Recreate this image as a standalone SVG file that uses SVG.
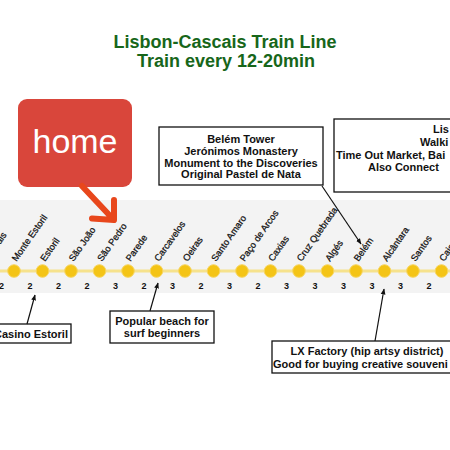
<svg xmlns="http://www.w3.org/2000/svg" width="450" height="450" viewBox="0 0 450 450">
<defs>
<style>
.title{font-family:"Liberation Sans",Arial,sans-serif;font-weight:bold;font-size:18px;fill:#17661a;text-anchor:middle}
.st{font-family:"Liberation Sans",Arial,sans-serif;font-size:9.3px;fill:#111;stroke:#111;stroke-width:0.25}
.num{font-family:"Liberation Sans",Arial,sans-serif;font-weight:bold;font-size:9px;fill:#111;text-anchor:middle}
.box{fill:#fff;stroke:#111;stroke-width:1.3}
.bt{font-family:"Liberation Sans",Arial,sans-serif;font-weight:bold;font-size:11px;fill:#111;text-anchor:middle}
.btl{font-family:"Liberation Sans",Arial,sans-serif;font-weight:bold;font-size:11px;fill:#111}
.dot{fill:#f4c416;stroke:#f7d560;stroke-width:1}
.conn{stroke:#111;stroke-width:1.2;fill:none;marker-end:url(#ah)}
</style>
<marker id="ah" viewBox="0 0 10 10" refX="9" refY="5" markerWidth="6" markerHeight="6" orient="auto" markerUnits="userSpaceOnUse">
<path d="M0,1 L10,5 L0,9 z" fill="#111"/>
</marker>
</defs>
<rect x="0" y="0" width="450" height="450" fill="#fff"/>
<g id="title">
<text class="title" x="225" y="48">Lisbon-Cascais Train Line</text>
<text class="title" x="226" y="67">Train every 12-20min</text>
</g>
<g id="band">
<rect x="0" y="200" width="450" height="93" fill="#f3f3f3"/>
<line x1="0" y1="271" x2="450" y2="271" stroke="#f6e28c" stroke-width="3"/>
</g>
<g id="stations">
<g id="s-cascais"><circle class="dot" cx="-14.5" cy="271" r="6.3"/><text class="st" transform="translate(-12,262) rotate(-55)">Cascais</text></g>
<g id="s-monte-estoril"><circle class="dot" cx="14" cy="271" r="6.3"/><text class="st" transform="translate(16.5,262) rotate(-55)">Monte Estoril</text></g>
<g id="s-estoril"><circle class="dot" cx="42.5" cy="271" r="6.3"/><text class="st" transform="translate(45,262) rotate(-55)">Estoril</text></g>
<g id="s-sao-joao"><circle class="dot" cx="71" cy="271" r="6.3"/><text class="st" transform="translate(73.5,262) rotate(-55)">São João</text></g>
<g id="s-sao-pedro"><circle class="dot" cx="99.5" cy="271" r="6.3"/><text class="st" transform="translate(102,262) rotate(-55)">São Pedro</text></g>
<g id="s-parede"><circle class="dot" cx="128" cy="271" r="6.3"/><text class="st" transform="translate(130.5,262) rotate(-55)">Parede</text></g>
<g id="s-carcavelos"><circle class="dot" cx="156.5" cy="271" r="6.3"/><text class="st" transform="translate(159,262) rotate(-55)">Carcavelos</text></g>
<g id="s-oeiras"><circle class="dot" cx="185" cy="271" r="6.3"/><text class="st" transform="translate(187.5,262) rotate(-55)">Oeiras</text></g>
<g id="s-santo-amaro"><circle class="dot" cx="213.5" cy="271" r="6.3"/><text class="st" transform="translate(216,262) rotate(-55)">Santo Amaro</text></g>
<g id="s-paco-de-arcos"><circle class="dot" cx="242" cy="271" r="6.3"/><text class="st" transform="translate(244.5,262) rotate(-55)">Paço de Arcos</text></g>
<g id="s-caxias"><circle class="dot" cx="270.5" cy="271" r="6.3"/><text class="st" transform="translate(273,262) rotate(-55)">Caxias</text></g>
<g id="s-cruz-quebrada"><circle class="dot" cx="299" cy="271" r="6.3"/><text class="st" transform="translate(301.5,262) rotate(-55)">Cruz Quebrada</text></g>
<g id="s-alges"><circle class="dot" cx="327.5" cy="271" r="6.3"/><text class="st" transform="translate(330,262) rotate(-55)">Algés</text></g>
<g id="s-belem"><circle class="dot" cx="356" cy="271" r="6.3"/><text class="st" transform="translate(358.5,262) rotate(-55)">Belém</text></g>
<g id="s-alcantara"><circle class="dot" cx="384.5" cy="271" r="6.3"/><text class="st" transform="translate(387,262) rotate(-55)">Alcântara</text></g>
<g id="s-santos"><circle class="dot" cx="413" cy="271" r="6.3"/><text class="st" transform="translate(415.5,262) rotate(-55)">Santos</text></g>
<g id="s-cais-do-sodre"><circle class="dot" cx="441.5" cy="271" r="6.3"/><text class="st" transform="translate(444,262) rotate(-55)">Cais do Sodré</text></g>
</g>
<g id="times">
<text class="num" x="1.5" y="289">2</text>
<text class="num" x="30" y="289">2</text>
<text class="num" x="58.5" y="289">2</text>
<text class="num" x="87" y="289">2</text>
<text class="num" x="115.5" y="289">3</text>
<text class="num" x="144" y="289">2</text>
<text class="num" x="172.5" y="289">3</text>
<text class="num" x="201" y="289">2</text>
<text class="num" x="229.5" y="289">3</text>
<text class="num" x="258" y="289">2</text>
<text class="num" x="286.5" y="289">3</text>
<text class="num" x="315" y="289">3</text>
<text class="num" x="343.5" y="289">3</text>
<text class="num" x="372" y="289">3</text>
<text class="num" x="400.5" y="289">3</text>
<text class="num" x="429" y="289">2</text>
</g>
<g id="home">
<rect x="18" y="99" width="114" height="88" rx="9" fill="#d9463b"/>
<text x="75" y="153" font-family="'Liberation Sans',Arial,sans-serif" font-size="34" fill="#fff" text-anchor="middle">home</text>
</g>
<g id="belem-box">
<rect class="box" x="159" y="127" width="164" height="58"/>
<text class="bt" x="241" y="143">Belém Tower</text>
<text class="bt" x="241" y="155">Jerónimos Monastery</text>
<text class="bt" x="241" y="166.5">Monument to the Discoveries</text>
<text class="bt" x="241" y="178">Original Pastel de Nata</text>
</g>
<g id="lisbon-box">
<rect class="box" x="334" y="119" width="130" height="73"/>
<text class="btl" x="433" y="133">Lis</text>
<text class="btl" x="420" y="146">Walki</text>
<text class="btl" x="336" y="159">Time Out Market, Bai</text>
<text class="btl" x="368" y="171">Also Connect</text>
</g>
<g id="casino-box">
<rect class="box" x="-6" y="324" width="77" height="19"/>
<text class="bt" x="31" y="338">Casino Estoril</text>
</g>
<g id="beach-box">
<rect class="box" x="110" y="311" width="104" height="32"/>
<text class="bt" x="162" y="325">Popular beach for</text>
<text class="bt" x="162" y="337">surf beginners</text>
</g>
<g id="lx-box">
<rect class="box" x="272" y="341" width="190" height="32"/>
<text class="bt" x="367" y="355">LX Factory (hip artsy district)</text>
<text class="btl" x="273" y="368">Good for buying creative souveni</text>
</g>
<g id="connectors">
<path d="M82,186 L113,219 M92,218.5 L114,220 L114,200" fill="none" stroke="#e8471c" stroke-width="6" stroke-linecap="round" stroke-linejoin="round"/>
<line class="conn" x1="322" y1="186" x2="361" y2="244"/>
<line class="conn" x1="27" y1="324" x2="35" y2="295"/>
<line class="conn" x1="150" y1="311" x2="158" y2="283"/>
<line class="conn" x1="375" y1="341" x2="384" y2="289"/>
</g>
</svg>
